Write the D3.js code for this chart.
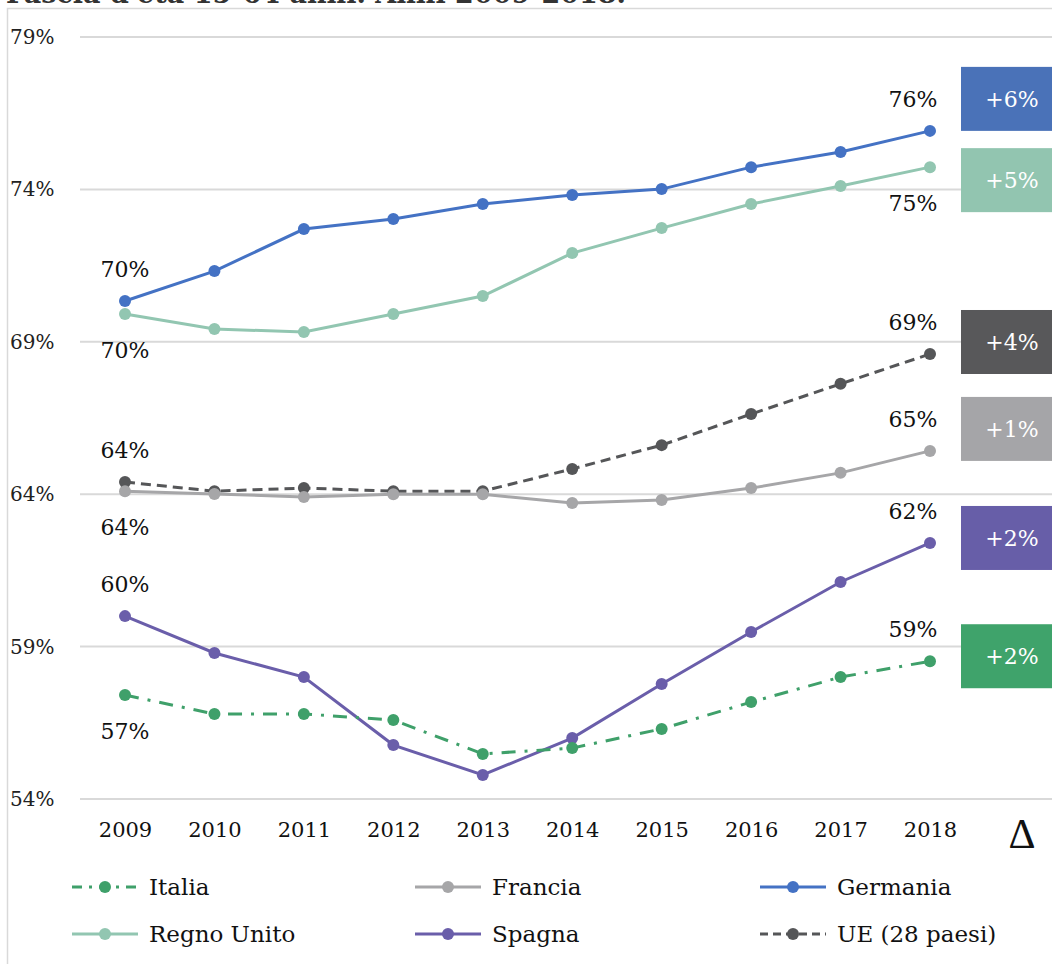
<!DOCTYPE html>
<meta charset="utf-8">
<style>
body { margin: 0; background: #fff; }
svg { font-family: "DejaVu Serif", "Liberation Serif", serif; }
.grid line { stroke: #d9d9d9; stroke-width: 2; }
.axis path, .axis line { display: none; }
</style>
<svg width="1052" height="964"></svg>
<script src="https://d3js.org/d3.v7.min.js"></script>
<script>

var years = [2009, 2010, 2011, 2012, 2013, 2014, 2015, 2016, 2017, 2018];
var yTicks = [54, 59, 64, 69, 74, 79];

var germania   = [70.34, 71.32, 72.70, 73.03, 73.52, 73.82, 74.01, 74.73, 75.23, 75.92];
var regnoUnito = [69.91, 69.42, 69.32, 69.91, 70.50, 71.91, 72.73, 73.52, 74.11, 74.73];
var ue28       = [64.40, 64.10, 64.20, 64.10, 64.10, 64.83, 65.61, 66.63, 67.62, 68.60];
var francia    = [64.10, 64.01, 63.91, 64.00, 64.00, 63.71, 63.81, 64.20, 64.70, 65.42];
var spagna     = [60.00, 58.79, 58.00, 55.77, 54.79, 56.00, 57.77, 59.48, 61.12, 62.40];
var italia     = [57.41, 56.79, 56.79, 56.59, 55.48, 55.67, 56.30, 57.18, 58.00, 58.52];

// variation 2009-2018 shown in the coloured boxes
var deltas = {"Germania": 6, "Regno Unito": 5, "UE (28 paesi)": 4, "Francia": 1, "Spagna": 2, "Italia": 2};

// label placement: start above(-1)/below(+1), end above/below, delta box offset
var series = [
  {name: "Germania",     values: germania,   color: "#4472c4", box: "#4a72b8", dash: null,        s: -1, e: -1, boxDy: -32},
  {name: "Regno Unito",  values: regnoUnito, color: "#92c6b1", box: "#92c5b0", dash: null,        s:  1, e:  1, boxDy:  13},
  {name: "UE (28 paesi)",values: ue28,       color: "#555658", box: "#58585a", dash: "10,6",      s: -1, e: -1, boxDy: -12},
  {name: "Francia",      values: francia,    color: "#a6a6a8", box: "#a5a5a8", dash: null,        s:  1, e: -1, boxDy: -22},
  {name: "Spagna",       values: spagna,     color: "#6a5eaa", box: "#675ea8", dash: null,        s: -1, e: -1, boxDy:  -5},
  {name: "Italia",       values: italia,     color: "#3fa06a", box: "#3fa36b", dash: "14,9,3,9",  s:  1, e: -1, boxDy:  -5}
];

var legendOrder = ["Italia", "Francia", "Germania", "Regno Unito", "Spagna", "UE (28 paesi)"];

var svg = d3.select("svg");

// frame
svg.append("rect").attr("x", 7.5).attr("y", 8.5).attr("width", 1060).attr("height", 970)
  .attr("fill", "none").attr("stroke", "#d9d9d9").attr("stroke-width", 1.5);

// heading of the page above, mostly cut off in the picture
svg.append("text").attr("x", 6).attr("y", 3).attr("font-size", 27).attr("font-weight", "bold")
  .attr("fill", "#333").text("Fascia d'età 15-64 anni. Anni 2009-2018.");

var x = d3.scalePoint().domain(years).range([125, 930]);
var y = d3.scaleLinear().domain([54, 79]).range([799, 37]);

// grid
svg.append("g").attr("class", "grid")
  .selectAll("line").data(yTicks).enter().append("line")
  .attr("x1", 80).attr("x2", 1052)
  .attr("y1", function(d) { return y(d); }).attr("y2", function(d) { return y(d); });

// y axis labels
svg.append("g").attr("class", "axis")
  .attr("transform", "translate(10,0)")
  .call(d3.axisRight(y).tickValues(yTicks).tickSize(0).tickFormat(function(d) { return d + "%"; }))
  .selectAll("text").attr("font-size", 20).attr("font-family", "DejaVu Serif").attr("fill", "#222").attr("x", 0);

// x axis labels
var xa = svg.append("g").attr("class", "axis")
  .attr("transform", "translate(0,820)")
  .call(d3.axisBottom(x).tickSize(0));
xa.selectAll("text").attr("font-size", 21).attr("font-family", "DejaVu Serif").attr("fill", "#111").attr("dy", "0.71em").attr("y", 2);

svg.append("text").attr("x", 1022).attr("y", 848).attr("text-anchor", "middle")
  .attr("font-size", 42).attr("fill", "#111").attr("font-family", "Liberation Serif").text("Δ");

var line = d3.line().x(function(d, i) { return x(years[i]); }).y(function(d) { return y(d); });

var g = svg.append("g");
series.forEach(function(s) {
  g.append("path").datum(s.values).attr("d", line)
    .attr("fill", "none").attr("stroke", s.color).attr("stroke-width", 3)
    .attr("stroke-dasharray", s.dash);
  g.selectAll(null).data(s.values).enter().append("circle")
    .attr("cx", function(d, i) { return x(years[i]); })
    .attr("cy", function(d) { return y(d); })
    .attr("r", 6).attr("fill", s.color);
});

// value labels and delta boxes
series.forEach(function(s) {
  var v0 = s.values[0], v1 = s.values[s.values.length - 1];
  g.append("text").attr("x", x(years[0])).attr("y", y(v0) + (s.s < 0 ? -24 : 44))
    .attr("text-anchor", "middle").attr("font-size", 22).attr("fill", "#111").text(Math.round(v0) + "%");
  g.append("text").attr("x", x(years[years.length - 1]) - 17).attr("y", y(v1) + (s.e < 0 ? -24 : 44))
    .attr("text-anchor", "middle").attr("font-size", 22).attr("fill", "#111").text(Math.round(v1) + "%");
  var cy = y(v1) + s.boxDy;
  g.append("rect").attr("x", 961).attr("y", cy - 32).attr("width", 91).attr("height", 64).attr("fill", s.box);
  g.append("text").attr("x", 1012).attr("y", cy + 8).attr("text-anchor", "middle")
    .attr("font-size", 22).attr("fill", "#fff").text("+" + deltas[s.name] + "%");
});

// legend
var legCols = [72, 415, 760], legRows = [887, 934];
legendOrder.forEach(function(name, i) {
  var s = series.find(function(t) { return t.name === name; });
  var lx = legCols[i % 3], ly = legRows[Math.floor(i / 3)];
  var lg = svg.append("g").attr("transform", "translate(" + lx + "," + ly + ")");
  lg.append("line").attr("x1", 0).attr("x2", 66).attr("y1", 0).attr("y2", 0)
    .attr("stroke", s.color).attr("stroke-width", 3).attr("stroke-dasharray", s.dash === "14,9,3,9" ? "10,7,3,7" : (s.dash ? "8,5" : null));
  lg.append("circle").attr("cx", 33).attr("cy", 0).attr("r", 6).attr("fill", s.color);
  lg.append("text").attr("x", 77).attr("y", 8).attr("font-size", 23).attr("fill", "#111").text(name);
});

</script>
